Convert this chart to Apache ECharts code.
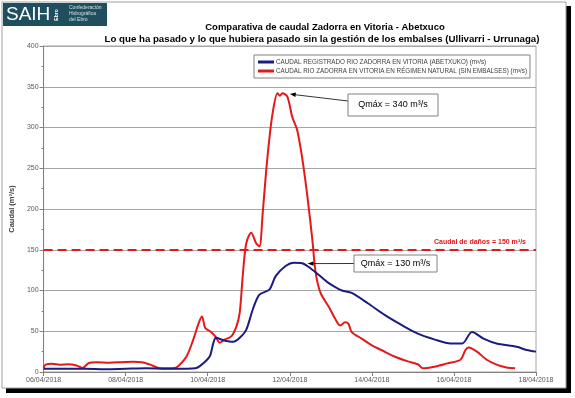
<!DOCTYPE html>
<html>
<head>
<meta charset="utf-8">
<script src="https://cdn.jsdelivr.net/npm/echarts@6/dist/echarts.min.js"></script>
<style>
  html, body { margin: 0; padding: 0; background: #fff; }
  #chart { width: 575px; height: 398px; }
</style>
</head>
<body>
<div id="chart"></div>
<script>
/* Caudal Zadorra en Vitoria - Abetxuco, 06/04/2018 → 18/04/2018.
   X values are day-of-April with fraction (9.5 = 09/04 12:00). */

const dateLabels = ['06/04/2018', '08/04/2018', '10/04/2018', '12/04/2018',
                    '14/04/2018', '16/04/2018', '18/04/2018'];

// Caudal registrado (Abetxuko), m3/s
const registeredDay = [6.0, 6.5, 7.0, 7.5, 8.0, 8.5, 9.0, 9.5, 9.7, 9.8, 9.9, 10.0,
  10.06, 10.14, 10.2, 10.38, 10.62, 10.78, 10.94, 11.1, 11.26, 11.5, 11.66, 11.9,
  12.1, 12.3, 12.47, 12.71, 12.95, 13.11, 13.27, 13.51, 13.91, 14.31, 14.71, 15.12,
  15.52, 15.92, 16.2, 16.44, 16.72, 17.04, 17.53, 17.77, 18.0];
const registeredFlow = [4, 4, 4, 3.5, 4, 4.5, 4, 4, 4.5, 7, 11, 16,
  20, 36, 42, 39, 37, 42, 52, 77, 95, 101, 118, 130,
  134, 133.5, 128.5, 119, 109, 104, 100, 97, 84, 70, 58, 47,
  40, 35, 35, 49, 41, 35, 31, 27, 25];

// Caudal en régimen natural (sin embalses), m3/s
const naturalDay = [6.0, 6.05, 6.2, 6.4, 6.6, 6.8, 6.95, 7.1, 7.3, 7.6, 7.9, 8.2,
  8.4, 8.6, 8.8, 9.0, 9.2, 9.3, 9.49, 9.65, 9.78, 9.86, 9.94, 10.06, 10.18, 10.3,
  10.42, 10.58, 10.7, 10.78, 10.86, 10.94, 11.06, 11.18, 11.26, 11.34, 11.42, 11.5,
  11.58, 11.7, 11.76, 11.82, 11.94, 12.06, 12.18, 12.31, 12.43, 12.55, 12.63, 12.75,
  12.95, 13.11, 13.23, 13.35, 13.43, 13.51, 13.75, 13.99, 14.23, 14.55, 14.88, 15.12,
  15.24, 15.52, 15.84, 16.16, 16.28, 16.36, 16.56, 16.8, 17.04, 17.28, 17.49];
const naturalFlow = [5, 9, 10, 9, 9.5, 8, 5, 11, 12, 11.5, 12, 12.5,
  12, 9, 5, 4.5, 5, 8, 19.7, 40, 60, 68, 54, 50, 44, 36,
  40, 44, 56, 73, 122, 158, 171, 158, 154, 195, 244, 285,
  317, 342, 339, 342, 338, 313, 297, 260, 215, 162, 122, 97,
  80, 65, 57, 61, 59, 49, 41, 33, 27, 19, 13, 9.5,
  4.5, 6.5, 10.6, 15, 27, 30, 25, 15, 9, 5.5, 4.5];

const damageFlow = 150;
const peakNatural = { day: 12.0, flow: 341, label: 'Qmáx = 340 m³/s' };
const peakRegistered = { day: 12.43, flow: 133, label: 'Qmáx = 130 m³/s' };

const FONT = '"Liberation Sans", Arial, sans-serif';
const BLUE = '#1c1c80';
const RED  = '#e3191b';

const chart = echarts.init(document.getElementById('chart'));

const pairs = (xs, ys) => xs.map((x, i) => [x, ys[i]]);

chart.setOption({
  animation: false,
  backgroundColor: '#fff',
  textStyle: { fontFamily: FONT },
  grid: {
    left: 38, right: 39, top: 46, bottom: 26,
    show: true, borderColor: '#a6a6a6', borderWidth: 1, backgroundColor: '#fff',
  },
  legend: {
    orient: 'vertical',
    left: 254, top: 55,
    padding: [4, 3, 4, 4],
    itemGap: 3,
    itemWidth: 16, itemHeight: 3,
    icon: 'rect',
    borderColor: '#808080', borderWidth: 1,
    backgroundColor: '#fff',
    textStyle: { fontSize: 6.3, color: '#404040', fontFamily: FONT, padding: [0, 0, 0, -3] },
    data: [
      'CAUDAL REGISTRADO RIO ZADORRA EN VITORIA (ABETXUKO) (m³/s)',
      'CAUDAL RIO ZADORRA EN VITORIA EN RÉGIMEN NATURAL (SIN EMBALSES) (m³/s)',
    ],
  },
  xAxis: {
    type: 'value',
    min: 6, max: 18, interval: 2,
    axisLine: { show: true, lineStyle: { color: '#808080' } },
    axisTick: { show: true, length: 4, lineStyle: { color: '#808080' } },
    splitLine: { show: false },
    axisLabel: {
      fontSize: 7, color: '#595959', margin: 5, fontFamily: FONT,
      formatter: v => dateLabels[Math.round((v - 6) / 2)],
    },
  },
  yAxis: {
    type: 'value',
    min: 0, max: 400, interval: 50,
    name: 'Caudal (m³/s)',
    nameLocation: 'middle',
    nameGap: 26,
    nameTextStyle: { fontSize: 7.5, fontWeight: 'bold', color: '#404040', fontFamily: FONT },
    axisLine: { show: true, lineStyle: { color: '#808080' } },
    axisTick: { show: true, length: 4, lineStyle: { color: '#808080' } },
    minorTick: { show: true, splitNumber: 2, length: 2, lineStyle: { color: '#808080' } },
    splitLine: { lineStyle: { color: '#a6a6a6', width: 1 } },
    axisLabel: { fontSize: 7, color: '#595959', margin: 5, fontFamily: FONT },
  },
  series: [
    {
      name: 'CAUDAL REGISTRADO RIO ZADORRA EN VITORIA (ABETXUKO) (m³/s)',
      type: 'line',
      data: pairs(registeredDay, registeredFlow),
      showSymbol: false,
      smooth: 0.3,
      color: BLUE,
      lineStyle: { color: BLUE, width: 2 },
      z: 3,
    },
    {
      name: 'CAUDAL RIO ZADORRA EN VITORIA EN RÉGIMEN NATURAL (SIN EMBALSES) (m³/s)',
      type: 'line',
      data: pairs(naturalDay, naturalFlow),
      showSymbol: false,
      smooth: 0.3,
      color: RED,
      lineStyle: { color: RED, width: 2 },
      z: 2,
      markLine: {
        silent: true,
        symbol: 'none',
        lineStyle: { color: RED, type: [9, 5], width: 2 },
        label: {
          position: 'insideEndTop',
          formatter: 'Caudal de daños = 150 m³/s',
          color: RED, fontSize: 7, fontWeight: 'bold', fontFamily: FONT,
          distance: [10, 4],
        },
        data: [{ yAxis: damageFlow }],
      },
    },
  ],
});

// Arrow + boxed label pointing at a data point
function callout(peak, box) {
  const [tx, ty] = chart.convertToPixel({ gridIndex: 0 }, [peak.day, peak.flow]);
  const sx = box.x, sy = box.y + box.h / 2 + (box.dy || 0);
  const ang = Math.atan2(ty - sy, tx - sx);
  const L = 6, W = 2.2;
  const bx = tx - L * Math.cos(ang), by = ty - L * Math.sin(ang);
  const nx = -Math.sin(ang) * W, ny = Math.cos(ang) * W;
  return [
    { type: 'line', shape: { x1: sx, y1: sy, x2: bx, y2: by },
      style: { stroke: '#000', lineWidth: 0.8 }, z: 20 },
    { type: 'polygon', shape: { points: [[tx, ty], [bx + nx, by + ny], [bx - nx, by - ny]] },
      style: { fill: '#000' }, z: 20 },
    { type: 'rect', shape: { x: box.x, y: box.y, width: box.w, height: box.h },
      style: { fill: '#fff', stroke: '#808080', lineWidth: 1 }, z: 20 },
    { type: 'text', x: box.x + box.w / 2, y: box.y + box.h / 2, z: 21,
      style: { text: peak.label, fill: '#000', font: '9px ' + FONT,
               textAlign: 'center', align: 'center',
               textVerticalAlign: 'middle', verticalAlign: 'middle' } },
  ];
}

function label(text, x, y, font, fill, align) {
  return { type: 'text', x, y, z: 30,
    style: { text, fill, font, textAlign: align || 'left', align: align || 'left',
             textVerticalAlign: 'middle', verticalAlign: 'middle' } };
}

chart.setOption({
  graphic: [
    // outer frame with dark shadow
    { type: 'rect', shape: { x: 566, y: 6, width: 5, height: 387 }, style: { fill: '#000' }, z: 1 },
    { type: 'rect', shape: { x: 6, y: 388, width: 565, height: 5 }, style: { fill: '#000' }, z: 1 },
    { type: 'rect', shape: { x: 2, y: 2, width: 564, height: 386 },
      style: { fill: 'none', stroke: '#a0a0a0', lineWidth: 1 }, z: 1 },
    // SAIH Ebro logo
    { type: 'rect', shape: { x: 3, y: 3, width: 104, height: 23 }, style: { fill: '#1f4f5e' }, z: 30 },
    label('SAIH', 6, 15, '19px ' + FONT, '#fff'),
    { type: 'text', x: 57, y: 15, rotation: Math.PI / 2, z: 30,
      style: { text: 'Ebro', fill: '#fff', font: 'bold 5px ' + FONT,
               textAlign: 'center', align: 'center',
               textVerticalAlign: 'middle', verticalAlign: 'middle' } },
    label('Confederación', 69, 7.5, '5px ' + FONT, '#cfe0e3'),
    label('Hidrográfica', 69, 13.5, '5px ' + FONT, '#cfe0e3'),
    label('del Ebro', 69, 19.5, '5px ' + FONT, '#cfe0e3'),
    // titles
    label('Comparativa de caudal Zadorra en Vitoria - Abetxuco', 325, 27,
          'bold 9.5px ' + FONT, '#000', 'center'),
    label('Lo que ha pasado y lo que hubiera pasado sin la gestión de los embalses (Ullivarri - Urrunaga)',
          322, 39, 'bold 9.7px ' + FONT, '#000', 'center'),
    ...callout(peakNatural, { x: 348, y: 94, w: 90, h: 22, dy: -4 }),
    ...callout(peakRegistered, { x: 354, y: 255, w: 83, h: 17 }),
  ],
});
</script>
</body>
</html>
